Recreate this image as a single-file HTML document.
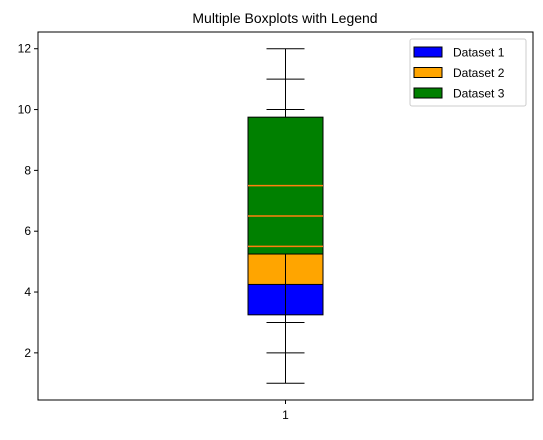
<!DOCTYPE html>
<html><head><meta charset="utf-8"><style>
body{margin:0;background:#fff;}
svg text{font-family:"Liberation Sans","DejaVu Sans",sans-serif;}
</style></head><body>
<svg id="chart" width="543" height="435" xmlns="http://www.w3.org/2000/svg">
<text x="285" y="23" font-size="14" text-anchor="middle">Multiple Boxplots with Legend</text>
<g id="plot"></g>
<rect x="38" y="32" width="495" height="368" fill="none" stroke="#000" stroke-width="1"/>
<g>
<rect x="410" y="39" width="116" height="67" rx="2" fill="#fff" fill-opacity="0.8" stroke="#ccc"/>
<g id="legend-items"></g>
</g>
</svg>
<script>
const labels = ["Dataset 1","Dataset 2","Dataset 3"];
const colors = ["blue","orange","green"];
const q1 = [3.25, 4.25, 5.25];
const medians = [5.5, 6.5, 7.5];
const q3 = [7.75, 8.75, 9.75];
const whiskLo = [1, 2, 3];
const whiskHi = [10, 11, 12];
const yTicks = [2,4,6,8,10,12];
const xCats = ["1"];

const NS="http://www.w3.org/2000/svg";
const yMin=0.45,yMax=12.55,plotTop=32,plotBot=400;
const Y=v=>plotBot-(v-yMin)/(yMax-yMin)*(plotBot-plotTop);
const X=i=>285.5;
const plot=document.getElementById('plot');
function mk(tag,attrs,parent){const e=document.createElementNS(NS,tag);for(const k in attrs)e.setAttribute(k,attrs[k]);(parent||plot).appendChild(e);return e;}

yTicks.forEach(t=>{
  const l=mk('line',{x1:34,x2:38,y1:Y(t),y2:Y(t),stroke:'#000'});
  
  
  const tx=mk('text',{x:31,y:Y(t)+4,'font-size':12,'text-anchor':'end'});
  tx.textContent=t;
  
  
});
xCats.forEach((c,i)=>{
  const l=mk('line',{x1:X(i),x2:X(i),y1:400,y2:404,stroke:'#000'});
  
  
  const tx=mk('text',{x:X(i),y:419,'font-size':12,'text-anchor':'middle'});
  tx.textContent=c;
  
  
});

const bw=75,cw=38;
labels.forEach((lab,i)=>{
  const cx=X(0);
  const w1=mk('line',{x1:cx,x2:cx,y1:Y(q1[i]),y2:Y(whiskLo[i]),stroke:'#000'});
  
  
  const w2=mk('line',{x1:cx,x2:cx,y1:Y(q3[i]),y2:Y(whiskHi[i]),stroke:'#000'});
  
  
  const c1=mk('line',{x1:cx-cw/2,x2:cx+cw/2,y1:Y(whiskLo[i]),y2:Y(whiskLo[i]),stroke:'#000'});
  
  
  const c2=mk('line',{x1:cx-cw/2,x2:cx+cw/2,y1:Y(whiskHi[i]),y2:Y(whiskHi[i]),stroke:'#000'});
  
  
  const r=mk('rect',{x:cx-bw/2,y:Y(q3[i]),width:bw,height:Y(q1[i])-Y(q3[i]),fill:colors[i],stroke:'#000'});
  
  
  const w3=mk('line',{x1:cx,x2:cx,y1:Y(q1[i]),y2:Y(whiskLo[i]),stroke:'#000'});
  
  
});
labels.forEach((lab,i)=>{
  const cx=X(0);
  const m=mk('line',{x1:cx-bw/2,x2:cx+bw/2,y1:Y(medians[i]),y2:Y(medians[i]),stroke:'#ff7f0e','stroke-width':1.5});
  
  
});

const lg=document.getElementById('legend-items');
labels.forEach((lab,i)=>{
  const yy=47+i*20.5;
  const r=mk('rect',{x:414,y:yy,width:28,height:10,fill:colors[i],stroke:'#000'},lg);
  
  
  const t=mk('text',{x:453,y:yy+9.5,'font-size':12},lg);
  t.textContent=lab;
  
  
});
</script>
</body></html>
